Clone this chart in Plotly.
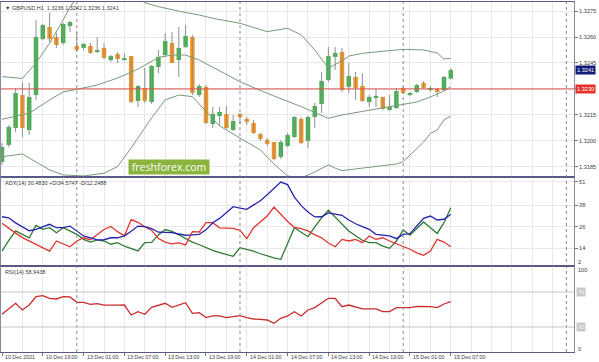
import plotly.graph_objects as go
from plotly.subplots import make_subplots

# ---------------- data ----------------
bars = list(range(67))
opens = [1.31879, 1.31977, 1.32075, 1.32265, 1.32063, 1.32265, 1.32588, 1.32658, 1.32600, 1.32565,
         1.32663, 1.32548, 1.32537, 1.32548, 1.32513, 1.32537, 1.32467, 1.32502, 1.32467, 1.32490,
         1.32231, 1.32306, 1.32225, 1.32427, 1.32496, 1.32565, 1.32467, 1.32542, 1.32600, 1.32265,
         1.32312, 1.32098, 1.32144, 1.32156, 1.32063, 1.32156, 1.32127, 1.32104, 1.32040, 1.32006,
         1.31994, 1.31908, 1.31971, 1.32023, 1.32127, 1.32000, 1.32138, 1.32213, 1.32352, 1.32485,
         1.32513, 1.32312, 1.32369, 1.32317, 1.32225, 1.32248, 1.32254, 1.32179, 1.32190, 1.32306,
         1.32265, 1.32283, 1.32335, 1.32294, 1.32300, 1.32294, 1.32360]
highs = [1.31988, 1.32092, 1.32306, 1.32340, 1.32335, 1.32698, 1.32675, 1.32739, 1.32623, 1.32681,
         1.32692, 1.32629, 1.32565, 1.32565, 1.32600, 1.32565, 1.32496, 1.32513, 1.32508, 1.32490,
         1.32323, 1.32421, 1.32438, 1.32525, 1.32623, 1.32629, 1.32658, 1.32669, 1.32612, 1.32329,
         1.32323, 1.32196, 1.32196, 1.32202, 1.32150, 1.32162, 1.32138, 1.32121, 1.32046, 1.32017,
         1.31994, 1.32006, 1.32046, 1.32144, 1.32138, 1.32144, 1.32219, 1.32398, 1.32542, 1.32542,
         1.32537, 1.32450, 1.32398, 1.32392, 1.32265, 1.32300, 1.32254, 1.32265, 1.32306, 1.32312,
         1.32283, 1.32329, 1.32346, 1.32317, 1.32306, 1.32375, 1.32420]
lows = [1.31862, 1.31965, 1.32052, 1.32023, 1.32035, 1.32237, 1.32583, 1.32571, 1.32537, 1.32554,
        1.32629, 1.32513, 1.32525, 1.32502, 1.32508, 1.32473, 1.32456, 1.32450, 1.32462, 1.32219,
        1.32196, 1.32219, 1.32213, 1.32392, 1.32485, 1.32450, 1.32369, 1.32537, 1.32265, 1.32254,
        1.32098, 1.32075, 1.32087, 1.32069, 1.32058, 1.32098, 1.32092, 1.32040, 1.32000, 1.31971,
        1.31890, 1.31896, 1.31965, 1.32017, 1.31983, 1.31960, 1.32075, 1.32162, 1.32340, 1.32410,
        1.32283, 1.32277, 1.32237, 1.32225, 1.32196, 1.32196, 1.32179, 1.32173, 1.32185, 1.32271,
        1.32260, 1.32277, 1.32300, 1.32283, 1.32254, 1.32288, 1.32355]
closes = [1.31965, 1.32081, 1.32277, 1.32075, 1.32254, 1.32600, 1.32669, 1.32588, 1.32554, 1.32675,
          1.32687, 1.32525, 1.32560, 1.32508, 1.32525, 1.32479, 1.32490, 1.32473, 1.32479, 1.32225,
          1.32317, 1.32231, 1.32433, 1.32485, 1.32577, 1.32450, 1.32537, 1.32606, 1.32277, 1.32317,
          1.32104, 1.32156, 1.32167, 1.32075, 1.32115, 1.32138, 1.32110, 1.32046, 1.32012, 1.31983,
          1.31896, 1.31994, 1.32035, 1.32138, 1.31988, 1.32138, 1.32202, 1.32346, 1.32490, 1.32508,
          1.32294, 1.32375, 1.32306, 1.32231, 1.32254, 1.32260, 1.32185, 1.32196, 1.32288, 1.32277,
          1.32277, 1.32323, 1.32306, 1.32306, 1.32283, 1.32369, 1.32410]

# Bollinger bands (at the visible vertices)
bb_upper_bars = [0, 3, 5, 7, 9, 10, 12, 15, 18, 21, 23, 25, 27, 29, 31, 35, 39, 42, 44, 46, 48, 50, 51, 53, 59, 62, 64, 65, 66]
bb_upper = [1.32371, 1.32361, 1.32450, 1.32564, 1.32698, 1.32773, 1.32880, 1.32910, 1.32880, 1.32798,
            1.32775, 1.32756, 1.32741, 1.32727, 1.32708, 1.32679, 1.32631, 1.32650, 1.32612, 1.32525,
            1.32421, 1.32462, 1.32490, 1.32506, 1.32529, 1.32525, 1.32508, 1.32473, 1.32477]
bb_mid_bars = [0, 4, 7, 9, 11, 14, 17, 20, 23, 25, 27, 29, 35, 39, 44, 48, 50, 59, 61, 63, 65, 66]
bb_mid = [1.32125, 1.32160, 1.32237, 1.32283, 1.32298, 1.32323, 1.32363, 1.32415, 1.32482, 1.32496,
          1.32496, 1.32467, 1.32342, 1.32275, 1.32198, 1.32131, 1.32150, 1.32208, 1.32225, 1.32254,
          1.32288, 1.32313]
bb_lower_bars = [0, 3, 7, 9, 12, 15, 17, 19, 22, 24, 26, 28, 29, 32, 35, 38, 40, 42, 44, 46, 48, 49, 50,
                 58, 59, 60, 62, 63, 64, 65, 66]
bb_lower = [1.31909, 1.31925, 1.31833, 1.31804, 1.31798, 1.31814, 1.31852, 1.31960, 1.32133, 1.32237,
            1.32265, 1.32256, 1.32213, 1.32087, 1.32017, 1.31948, 1.31867, 1.31798, 1.31787, 1.31821,
            1.31862, 1.31843, 1.31829, 1.31867, 1.31881, 1.31919, 1.31994, 1.32044, 1.32063, 1.32121,
            1.32144]

level_price = 1.3230
last_price = 1.3241

adx = [31.6, 31.0, 28.2, 26.0, 23.8, 24.6, 26.0, 27.4, 25.5, 25.5, 26.4, 23.7, 20.9, 19.8, 18.7, 18.8,
       19.9, 19.9, 21.0, 23.5, 26.4, 26.1, 25.0, 23.0, 22.8, 22.8, 22.0, 21.3, 21.5, 21.8, 24.3, 28.3,
       30.7, 33.9, 37.2, 36.4, 35.7, 38.2, 40.5, 43.9, 47.4, 50.9, 49.5, 42.5, 37.8, 34.2, 31.5, 31.6,
       33.7, 33.0, 32.4, 29.8, 27.7, 26.1, 24.6, 21.8, 21.3, 20.9, 19.4, 21.8, 22.2, 26.4, 30.7, 32.0,
       29.8, 30.2, 33.0]
di_plus = [12.5, 18.5, 23.7, 21.8, 19.9, 26.8, 24.6, 25.5, 22.7, 25.5, 23.6, 21.8, 19.0, 17.5, 18.7, 18.1,
           16.3, 17.2, 15.2, 13.9, 12.6, 17.2, 17.3, 21.5, 24.5, 23.5, 21.5, 19.5, 17.5, 16.0, 14.3, 12.9,
           11.6, 10.5, 9.6, 14.4, 13.5, 12.4, 11.0, 9.8, 8.7, 7.9, 16.5, 25.5, 23.0, 20.5, 26.0, 31.0,
           35.3, 31.5, 27.4, 23.7, 21.0, 18.5, 17.2, 17.2, 15.3, 14.0, 18.1, 24.2, 21.3, 25.0, 28.7, 25.5,
           22.3, 28.3, 36.6]
di_minus = [28.0, 25.0, 22.5, 20.0, 18.2, 16.5, 14.5, 12.5, 18.1, 16.5, 14.9, 18.1, 19.9, 18.8, 21.5, 24.5,
            26.2, 23.3, 21.0, 30.0, 28.5, 26.0, 24.0, 19.5, 17.5, 16.5, 17.0, 15.9, 23.3, 23.1, 28.3, 28.3,
            25.4, 25.3, 25.1, 24.0, 19.4, 25.5, 29.0, 32.0, 37.0, 33.0, 29.0, 25.7, 25.0, 23.7, 21.5, 19.9,
            17.0, 14.9, 19.0, 18.1, 19.0, 17.2, 20.9, 19.0, 19.9, 18.1, 16.5, 15.3, 13.5, 11.5, 10.1, 12.5,
            19.0, 17.5, 14.9]
rsi = [44.5, 51.0, 57.0, 49.4, 55.1, 64.6, 65.8, 62.8, 62.0, 64.6, 64.3, 58.2, 58.2, 55.9, 56.7, 55.1,
       55.4, 54.9, 55.1, 43.7, 47.5, 44.5, 52.5, 54.4, 57.1, 52.5, 55.1, 57.8, 45.6, 46.4, 40.7, 42.6,
       42.6, 40.7, 41.8, 42.9, 40.7, 39.1, 38.8, 38.0, 34.2, 39.9, 42.6, 47.5, 42.5, 49.4, 52.1, 57.1,
       62.8, 62.8, 53.2, 55.1, 53.2, 50.6, 50.6, 50.6, 47.5, 47.5, 52.1, 52.1, 52.1, 53.6, 53.4, 53.2,
       52.1, 56.3, 58.9]

tick_bars = [0, 6, 12, 18, 24, 30, 36, 42, 48, 54, 60, 66]
tick_labels = ["10 Dec 2021", "10 Dec 19:00", "13 Dec 01:00", "13 Dec 07:00", "13 Dec 13:00",
               "13 Dec 19:00", "14 Dec 01:00", "14 Dec 07:00", "14 Dec 13:00", "14 Dec 19:00",
               "15 Dec 01:00", "15 Dec 07:00"]
separator_bars = [11, 35, 59, 83]
price_ticks = [1.3185, 1.3200, 1.3215, 1.3230, 1.3245, 1.3260, 1.3275]
adx_ticks = [51, 38, 26, 14]

# ---------------- styling ----------------
FONT = "Liberation Sans, Arial, sans-serif"
TXT = "#3c3c3c"
UP = "#3db54a"
DOWN = "#f7931e"
BORDER = "#5a5a86"
GRID = "#e8e8e8"

fig = make_subplots(rows=3, cols=1, shared_xaxes=True, vertical_spacing=0)

# wicks
wx, wy = [], []
for i, h, l in zip(bars, highs, lows):
    wx += [i, i, None]
    wy += [l, h, None]
fig.add_trace(go.Scatter(x=wx, y=wy, mode="lines", line=dict(color="#8f8f8f", width=1),
                         hoverinfo="skip"), row=1, col=1)

# bodies
body_base = [min(o, c) for o, c in zip(opens, closes)]
body_h = [abs(c - o) for o, c in zip(opens, closes)]
body_col = [UP if c >= o else DOWN for o, c in zip(opens, closes)]
fig.add_trace(go.Bar(x=bars, y=body_h, base=body_base, width=0.66,
                     marker=dict(color=body_col, line=dict(width=0))), row=1, col=1)

for bx, by in [(bb_upper_bars, bb_upper), (bb_mid_bars, bb_mid), (bb_lower_bars, bb_lower)]:
    fig.add_trace(go.Scatter(x=bx, y=by, mode="lines", line=dict(color="#789a78", width=1)),
                  row=1, col=1)

fig.add_trace(go.Scatter(x=bars, y=di_plus, mode="lines", line=dict(color="#2f7a34", width=1.3)), row=2, col=1)
fig.add_trace(go.Scatter(x=bars, y=di_minus, mode="lines", line=dict(color="#e2352f", width=1.3)), row=2, col=1)
fig.add_trace(go.Scatter(x=bars, y=adx, mode="lines", line=dict(color="#2424b0", width=1.3)), row=2, col=1)

fig.add_trace(go.Scatter(x=bars, y=rsi, mode="lines", line=dict(color="#cc2a2a", width=1.3)), row=3, col=1)

xr = [-0.147, 84.12]
grid_bars = list(range(0, 85, 3))
for k in (1, 2, 3):
    fig.update_xaxes(row=k, col=1, range=xr, showgrid=True, gridcolor=GRID, gridwidth=1,
                     tickvals=grid_bars, showticklabels=False, ticks="",
                     showline=True, mirror=True, linecolor=BORDER, linewidth=1, zeroline=False)
fig.update_xaxes(row=3, col=1, tickvals=tick_bars, ticks="outside", ticklen=3, tickcolor="#777",
                 minor=dict(tickvals=grid_bars, showgrid=True, gridcolor=GRID, ticks=""))

common_y = dict(side="right", showline=True, mirror=True, linecolor="#8a8aa6", linewidth=1,
                zeroline=False, ticks="outside", ticklen=3, tickcolor="#777",
                tickfont=dict(family=FONT, size=5.6, color=TXT), gridcolor=GRID)
# the 1.3230 level carries its own red tag, so its plain tick label is left blank
price_text = ["" if abs(v - level_price) < 1e-9 else f"{v:.4f}" for v in price_ticks]
fig.update_yaxes(row=1, col=1, range=[1.31792, 1.32802], tickvals=price_ticks,
                 ticktext=price_text, showgrid=True, **common_y)
fig.update_yaxes(row=2, col=1, range=[4.18, 53.73], tickvals=adx_ticks,
                 ticktext=[str(v) for v in adx_ticks], showgrid=True, **common_y)
fig.update_yaxes(row=3, col=1, range=[1.4, 99.7], tickvals=[], showgrid=False, **common_y)

fig.update_layout(
    width=599, height=362, margin=dict(l=1, r=25, t=2, b=10),
    paper_bgcolor="white", plot_bgcolor="white", showlegend=False, barmode="overlay",
    yaxis=dict(domain=[0.5, 1.0]), yaxis2=dict(domain=[0.2457, 0.5]), yaxis3=dict(domain=[0.0, 0.2457]),
    font=dict(family=FONT, size=5.5, color=TXT),
)

shapes = []
for b in separator_bars:
    shapes.append(dict(type="line", xref="x", yref="paper", x0=b, x1=b, y0=0, y1=1,
                       line=dict(color="#8a8a8a", width=1, dash="dot")))
shapes.append(dict(type="line", xref="paper", yref="y", x0=0, x1=1, y0=level_price, y1=level_price,
                   line=dict(color="#dd4f4a", width=1)))
for lv in (70, 30):
    shapes.append(dict(type="line", xref="paper", yref="y3", x0=0, x1=1, y0=lv, y1=lv,
                       line=dict(color="#c6c6c6", width=1)))
# panel separators
for yp in (0.5, 0.2457):
    shapes.append(dict(type="line", xref="paper", yref="paper", x0=0, x1=1, y0=yp, y1=yp,
                       line=dict(color=BORDER, width=1.5)))
fig.update_layout(shapes=shapes)

ann = []
ann.append(dict(xref="paper", yref="paper", x=0.003, y=1.0, yshift=-1, xanchor="left", yanchor="top",
                text="▼ GBPUSD,H1  1.3236 1.3242 1.3236 1.3241", showarrow=False,
                font=dict(family=FONT, size=5.5, color=TXT)))
ann.append(dict(xref="paper", yref="paper", x=0.003, y=0.5, yshift=-1, xanchor="left", yanchor="top",
                text="ADX(14) 30.4830 +DI34.5747 -DI12.2488", showarrow=False,
                font=dict(family=FONT, size=5.5, color=TXT)))
ann.append(dict(xref="paper", yref="paper", x=0.003, y=0.2457, yshift=-1, xanchor="left", yanchor="top",
                text="RSI(14) 58.9438", showarrow=False, font=dict(family=FONT, size=5.5, color=TXT)))
# current price / level tags
ann.append(dict(xref="paper", yref="y", x=1, xshift=1, y=last_price, xanchor="left", yanchor="middle",
                text=f"{last_price:.4f}", showarrow=False, bgcolor="#101a78", borderpad=1,
                font=dict(family=FONT, size=5.6, color="white")))
ann.append(dict(xref="paper", yref="y", x=1, xshift=1, y=level_price, xanchor="left", yanchor="middle",
                text=f"{level_price:.4f}", showarrow=False, bgcolor="#e3312b", borderpad=1,
                font=dict(family=FONT, size=5.6, color="white")))
# ADX bottom label and RSI labels
ann.append(dict(xref="paper", yref="paper", x=1, xshift=2, y=0.2571, xanchor="left", yanchor="middle",
                text="2", showarrow=False, font=dict(family=FONT, size=5.6, color=TXT)))
for txt, yp, box in [("100", 0.2343, False), ("70", 0.1714, True), ("30", 0.0714, True), ("0", 0.0086, False)]:
    a = dict(xref="paper", yref="paper", x=1, xshift=2, y=yp, xanchor="left", yanchor="middle",
             text=txt, showarrow=False, font=dict(family=FONT, size=5.6, color=TXT if not box else "#f2f2f2"))
    if box:
        a["bgcolor"] = "#c9c9c9"
        a["borderpad"] = 1
    ann.append(a)
# time labels
for b, t in zip(tick_bars, tick_labels):
    ann.append(dict(xref="x3", yref="paper", x=b, xshift=1, y=-0.0143, xanchor="left", yanchor="middle",
                    text=t, showarrow=False, font=dict(family=FONT, size=5.3, color=TXT)))
# watermark
ann.append(dict(xref="paper", yref="paper", x=0.2932, y=0.5286, xanchor="center", yanchor="middle",
                text="freshforex.com", showarrow=False, bgcolor="#8ab43e", borderpad=1,
                width=78, height=12, font=dict(family="Open Sans, sans-serif", size=10.5, color="white")))
fig.update_layout(annotations=ann)

fig.write_html("out.html", config={"displayModeBar": False, "staticPlot": True},
               post_script="document.body.style.margin='0';document.body.style.padding='0';"
                           "document.body.style.overflow='hidden';window.dispatchEvent(new Event('resize'));")
